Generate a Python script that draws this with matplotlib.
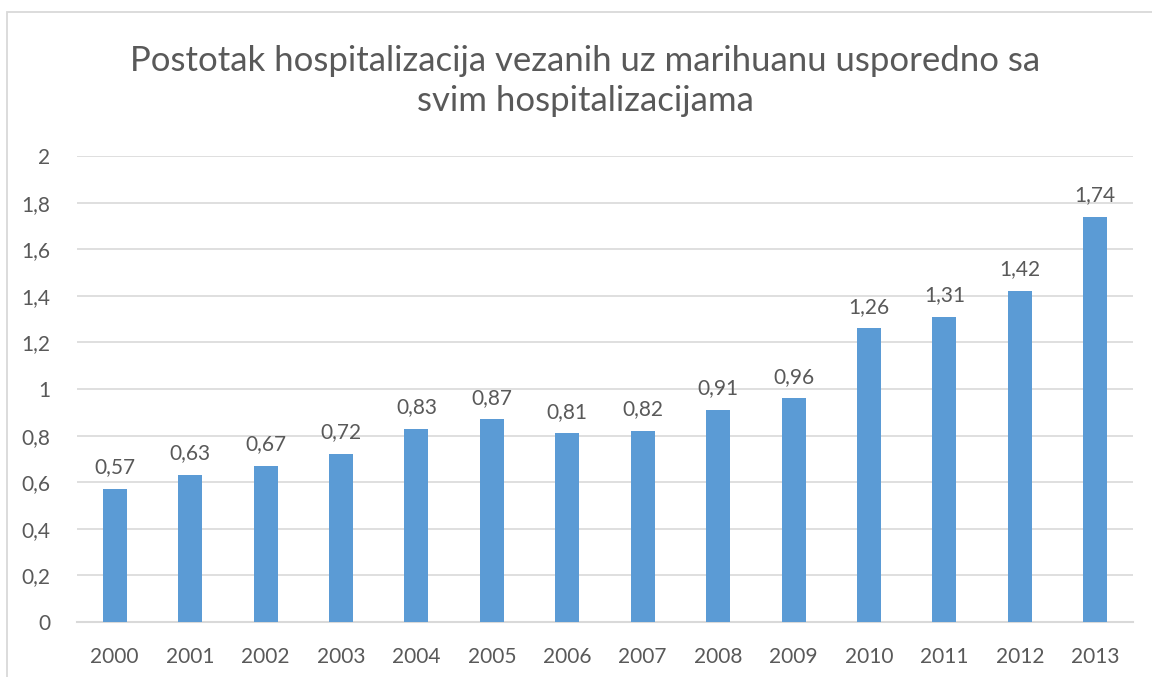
import matplotlib.pyplot as plt
from matplotlib.patches import Rectangle

years = ["2000", "2001", "2002", "2003", "2004", "2005", "2006",
         "2007", "2008", "2009", "2010", "2011", "2012", "2013"]
values = [0.57, 0.63, 0.67, 0.72, 0.83, 0.87, 0.81,
          0.82, 0.91, 0.96, 1.26, 1.31, 1.42, 1.74]
yticks = [0, 0.2, 0.4, 0.6, 0.8, 1.0, 1.2, 1.4, 1.6, 1.8, 2.0]

TEXT = "#595959"
BAR = "#5B9BD5"
GRID = "#D9D9D9"

plt.rcParams["font.family"] = ["Lato", "DejaVu Sans"]

W, H = 1152, 677
fig = plt.figure(figsize=(W / 100, H / 100), dpi=100)

# chart frame (only left/top visible in the reference)
fig.patches.append(Rectangle((7 / W, -0.1), 1.2, (H - 12) / H + 0.1,
                             transform=fig.transFigure, fill=False,
                             edgecolor=GRID, linewidth=1.3))

ax = fig.add_axes([77 / W, (H - 622) / H, (1133 - 77) / W, (622 - 156) / H])
x = range(len(years))
bars = ax.bar(x, values, width=0.32, color=BAR, zorder=3)

for b, v in zip(bars, values):
    ax.text(b.get_x() + b.get_width() / 2, v + 0.05, f"{v:.2f}".replace(".", ","),
            ha="center", va="bottom", fontsize=15, color=TEXT)

ax.set_xlim(-0.5, len(years) - 0.5)
ax.set_ylim(0, 2)
ax.set_yticks(yticks)
ax.set_yticklabels([f"{t:g}".replace(".", ",") for t in yticks])
ax.set_xticks(list(x))
ax.set_xticklabels(years)
ax.tick_params(length=0, labelsize=15, colors=TEXT)
ax.tick_params(axis="y", pad=19)
ax.tick_params(axis="x", pad=18)
ax.yaxis.grid(True, color=GRID, linewidth=1.2, zorder=0)
for s in ["top", "right", "left"]:
    ax.spines[s].set_visible(False)
ax.spines["bottom"].set_color(GRID)
ax.spines["bottom"].set_linewidth(1.5)

fig.text(585 / W, 1 - 81 / H,
         "Postotak hospitalizacija vezanih uz marihuanu usporedno sa\nsvim hospitalizacijama",
         ha="center", va="center", fontsize=25, color=TEXT, linespacing=1.3)

fig.savefig("out.png", dpi=100)
